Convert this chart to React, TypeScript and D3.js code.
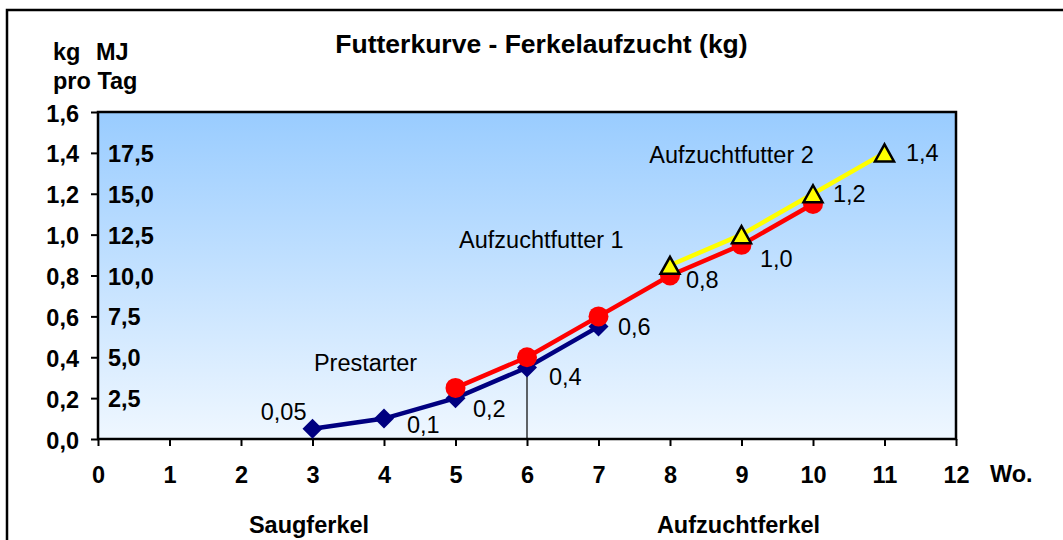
import { useEffect, useRef } from "react";
import * as d3 from "d3";

// Futterkurve - Ferkelaufzucht
const weekTicks = [0, 1, 2, 3, 4, 5, 6, 7, 8, 9, 10, 11, 12];
const kgTicks = [0, 0.2, 0.4, 0.6, 0.8, 1.0, 1.2, 1.4, 1.6];
const mjTickValues = [1.4, 1.2, 1.0, 0.8, 0.6, 0.4, 0.2];
const mjTickLabels = ["17,5", "15,0", "12,5", "10,0", "7,5", "5,0", "2,5"];

const prestarterWeeks = [3, 4, 5, 6, 7];
const prestarterValues = [0.05, 0.1, 0.2, 0.35, 0.55];
const futter1Weeks = [5, 6, 7, 8, 9, 10];
const futter1Values = [0.25, 0.4, 0.6, 0.8, 0.95, 1.15];
const futter2Weeks = [8, 9, 10, 11];
const futter2Values = [0.85, 1.0, 1.2, 1.4];

// data labels: which series / week they belong to, and the text shown
const labelSeries = ["p", "p", "p", "p", "f1", "f1", "f1", "f2", "f2"];
const labelWeeks = [3, 4, 5, 6, 7, 8, 9, 10, 11];
const labelTexts = ["0,05", "0,1", "0,2", "0,4", "0,6", "0,8", "1,0", "1,2", "1,4"];

const annotationTexts = ["Prestarter", "Aufzuchtfutter 1", "Aufzuchtfutter 2"];
const annotationWeeks = [3.02, 5.05, 7.71];
const annotationValues = [0.333, 0.934, 1.35];

const FONT = "'Liberation Sans', Arial, sans-serif";

const App = () => {
  const chartRef = useRef<SVGSVGElement>(null);

  useEffect(() => {
    const width = 1063;
    const height = 540;
    const left = 98;
    const right = 956;
    const top = 112;
    const bottom = 439;

    const svg = d3.select(chartRef.current);
    svg.selectAll("*").remove();

    const x = d3.scaleLinear().domain([0, 12]).range([left, right]);
    const y = d3.scaleLinear().domain([0, 1.6]).range([bottom, top]);

    // outer frame
    svg
      .append("rect")
      .attr("x", 7)
      .attr("y", 10)
      .attr("width", width + 20)
      .attr("height", height + 20)
      .attr("fill", "white")
      .attr("stroke", "black")
      .attr("stroke-width", 2.5);

    const defs = svg.append("defs");
    const grad = defs
      .append("linearGradient")
      .attr("id", "plotBg")
      .attr("x1", 0)
      .attr("y1", 0)
      .attr("x2", 0)
      .attr("y2", 1);
    grad.append("stop").attr("offset", "0%").attr("stop-color", "#99CCFF");
    grad.append("stop").attr("offset", "100%").attr("stop-color", "#EFF7FF");

    svg
      .append("rect")
      .attr("x", left)
      .attr("y", top)
      .attr("width", right - left)
      .attr("height", bottom - top)
      .attr("fill", "url(#plotBg)")
      .attr("stroke", "black")
      .attr("stroke-width", 2.5);

    // title
    svg
      .append("text")
      .attr("x", 541.5)
      .attr("y", 53)
      .attr("text-anchor", "middle")
      .attr("font-family", FONT)
      .attr("font-weight", "bold")
      .attr("font-size", 26.5)
      .text("Futterkurve - Ferkelaufzucht (kg)");

    const unitText = (tx: number, ty: number, t: string) =>
      svg
        .append("text")
        .attr("x", tx)
        .attr("y", ty)
        .attr("font-family", FONT)
        .attr("font-weight", "bold")
        .attr("font-size", 23.5)
        .text(t);
    unitText(53, 60, "kg");
    unitText(96, 60, "MJ");
    unitText(53, 89, "pro Tag");
    unitText(990, 482, "Wo.");

    const groupLabel = (tx: number, t: string) =>
      svg
        .append("text")
        .attr("x", tx)
        .attr("y", 533)
        .attr("text-anchor", "middle")
        .attr("font-family", FONT)
        .attr("font-weight", "bold")
        .attr("font-size", 23.5)
        .text(t);
    groupLabel(309, "Saugferkel");
    groupLabel(738.5, "Aufzuchtferkel");

    const comma = (v: number) => d3.format(".1f")(v).replace(".", ",");

    // y axis
    svg
      .append("g")
      .attr("transform", `translate(${left},0)`)
      .call(
        d3
          .axisLeft(y)
          .tickValues(kgTicks)
          .tickSize(7)
          .tickPadding(12)
          .tickFormat((d) => comma(d as number)),
      )
      .call((g) => {
        g.select(".domain").remove();
        g.selectAll("line").attr("stroke", "black").attr("stroke-width", 2);
        g.selectAll("text")
          .attr("dy", null)
          .attr("y", 9)
          .attr("font-family", FONT)
          .attr("font-weight", "bold")
          .attr("font-size", 23.5)
          .attr("fill", "black");
      });

    // x axis
    svg
      .append("g")
      .attr("transform", `translate(0,${bottom})`)
      .call(
        d3
          .axisBottom(x)
          .tickValues(weekTicks)
          .tickSize(7)
          .tickFormat((d) => String(d)),
      )
      .call((g) => {
        g.select(".domain").remove();
        g.selectAll("line").attr("stroke", "black").attr("stroke-width", 2);
        g.selectAll("text")
          .attr("dy", null)
          .attr("y", 44)
          .attr("font-family", FONT)
          .attr("font-weight", "bold")
          .attr("font-size", 23.5)
          .attr("fill", "black");
      });

    // MJ labels inside plot
    svg
      .append("g")
      .selectAll("text")
      .data(mjTickValues)
      .join("text")
      .attr("x", left + 10)
      .attr("y", (d) => y(d) + 9)
      .attr("font-family", FONT)
      .attr("font-weight", "bold")
      .attr("font-size", 23.5)
      .text((_, i) => mjTickLabels[i]);

    // annotations
    svg
      .append("g")
      .selectAll("text")
      .data(annotationTexts)
      .join("text")
      .attr("x", (_, i) => x(annotationWeeks[i]))
      .attr("y", (_, i) => y(annotationValues[i]))
      .attr("font-family", FONT)
      .attr("font-size", 23.5)
      .text((d) => d);

    const prestarter = prestarterWeeks.map((w, i) => [w, prestarterValues[i]] as [number, number]);
    const futter1 = futter1Weeks.map((w, i) => [w, futter1Values[i]] as [number, number]);
    const futter2 = futter2Weeks.map((w, i) => [w, futter2Values[i]] as [number, number]);

    const line = d3
      .line<[number, number]>()
      .x((d) => x(d[0]))
      .y((d) => y(d[1]));

    // drop line at week 6
    const drop = prestarter.find((d) => d[0] === 6)!;
    svg
      .append("line")
      .attr("x1", x(drop[0]))
      .attr("x2", x(drop[0]))
      .attr("y1", y(0))
      .attr("y2", y(drop[1]))
      .attr("stroke", "black")
      .attr("stroke-width", 1.2);

    // Prestarter
    svg
      .append("path")
      .datum(prestarter)
      .attr("d", line)
      .attr("fill", "none")
      .attr("stroke", "#000080")
      .attr("stroke-width", 4.5);
    svg
      .append("g")
      .selectAll("path")
      .data(prestarter)
      .join("path")
      .attr("transform", (d) => `translate(${x(d[0])},${y(d[1])})`)
      .attr("d", "M0,-10L10,0L0,10L-10,0Z")
      .attr("fill", "#000080");

    // Aufzuchtfutter 1
    svg
      .append("path")
      .datum(futter1)
      .attr("d", line)
      .attr("fill", "none")
      .attr("stroke", "#FF0000")
      .attr("stroke-width", 4.5);
    svg
      .append("g")
      .selectAll("circle")
      .data(futter1)
      .join("circle")
      .attr("cx", (d) => x(d[0]))
      .attr("cy", (d) => y(d[1]))
      .attr("r", 10)
      .attr("fill", "#FF0000");

    // Aufzuchtfutter 2
    svg
      .append("path")
      .datum(futter2)
      .attr("d", line)
      .attr("fill", "none")
      .attr("stroke", "#FFFF00")
      .attr("stroke-width", 4.5);
    svg
      .append("g")
      .selectAll("path")
      .data(futter2)
      .join("path")
      .attr("transform", (d) => `translate(${x(d[0])},${y(d[1])})`)
      .attr("d", "M0,-8.5L9.5,8.5L-9.5,8.5Z")
      .attr("fill", "#FFFF00")
      .attr("stroke", "black")
      .attr("stroke-width", 2.5)
      .attr("stroke-linejoin", "miter");

    // data labels
    const seriesMap: Record<string, [number, number][]> = { p: prestarter, f1: futter1, f2: futter2 };
    const labelDx = [-6, 23, 17.5, 22, 19.5, 16, 18.5, 20, 21.5];
    const labelDy = [-9, 14, 19, 17.5, 18.6, 12.5, 22, 8.3, 8];
    svg
      .append("g")
      .selectAll("text")
      .data(labelTexts)
      .join("text")
      .attr("x", (_, i) => x(labelWeeks[i]) + labelDx[i])
      .attr("y", (_, i) => {
        const pt = seriesMap[labelSeries[i]].find((d) => d[0] === labelWeeks[i])!;
        return y(pt[1]) + labelDy[i];
      })
      .attr("text-anchor", (_, i) => (i === 0 ? "end" : "start"))
      .attr("font-family", FONT)
      .attr("font-size", 23.5)
      .text((d) => d);

    return () => {
      d3.select(chartRef.current).selectAll("*").remove();
    };
  }, []);

  return (
    <svg
      ref={chartRef}
      width={1063}
      height={540}
      style={{ position: "absolute", left: 0, top: 0, display: "block" }}
    />
  );
};

export default App;
